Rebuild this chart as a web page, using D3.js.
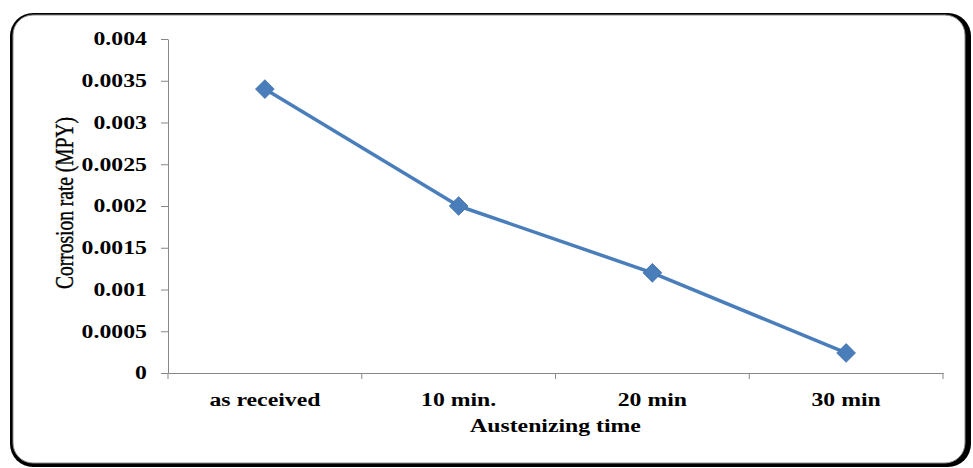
<!DOCTYPE html>
<html>
<head>
<meta charset="utf-8">
<script src="https://cdn.jsdelivr.net/npm/d3@7"></script>
<style>
  body { margin: 0; background: #fff; }
  svg { display: block; }
</style>
</head>
<body>
<div id="chart"></div>
<script>
    var categories = ["as received", "10 min.", "20 min", "30 min"];
    var rates = [0.0034, 0.002, 0.0012, 0.00024];
    var yTicks = [0, 0.0005, 0.001, 0.0015, 0.002, 0.0025, 0.003, 0.0035, 0.004];
    var yTickLabels = ["0", "0.0005", "0.001", "0.0015", "0.002", "0.0025", "0.003", "0.0035", "0.004"];

    var WIDTH = 973, HEIGHT = 468;
    var PLOT_LEFT = 168, PLOT_RIGHT = 943, PLOT_TOP = 39, PLOT_BOTTOM = 373;
    var STRETCH = 1.32; // text in the picture is wider than plain Times
    var LINE_COLOR = "#4a7ebb";
    var AXIS_COLOR = "#878787";

    var svg = d3.select("#chart").append("svg")
        .attr("width", WIDTH)
        .attr("height", HEIGHT);

    var defs = svg.append("defs");
    defs.append("filter").attr("id", "soft")
        .append("feGaussianBlur").attr("stdDeviation", 0.7);

    // frame with shadow
    svg.append("rect")
        .attr("x", 10).attr("y", 13)
        .attr("width", 961).attr("height", 454)
        .attr("rx", 23).attr("ry", 23)
        .attr("fill", "#000")
        .attr("filter", "url(#soft)");
    svg.append("rect")
        .attr("x", 13).attr("y", 15)
        .attr("width", 952).attr("height", 448)
        .attr("rx", 20).attr("ry", 20)
        .attr("fill", "#fff")
        .attr("stroke", "#8a8a8a")
        .attr("stroke-width", 1);

    var x = d3.scaleBand().domain(categories).range([PLOT_LEFT, PLOT_RIGHT]);
    var y = d3.scaleLinear().domain([0, 0.004]).range([PLOT_BOTTOM, PLOT_TOP]);

    // y axis
    var yAxis = svg.append("g")
        .attr("transform", "translate(" + PLOT_LEFT + ",0)")
        .call(d3.axisLeft(y)
            .tickValues(yTicks)
            .tickFormat(function(d, i){ return yTickLabels[i]; })
            .tickSizeInner(7)
            .tickSizeOuter(0)
            .tickPadding(9));
    yAxis.selectAll("path, line").attr("stroke", AXIS_COLOR);
    yAxis.selectAll("text")
        .attr("font-family", "'Liberation Serif', 'Times New Roman', serif")
        .attr("font-weight", "bold")
        .attr("font-size", 18)
        .attr("fill", "#000")
        .attr("transform", "scale(" + STRETCH + ",1)");

    // x axis
    var xAxis = svg.append("g")
        .attr("transform", "translate(0," + PLOT_BOTTOM + ")")
        .call(d3.axisBottom(x)
            .tickSizeInner(0)
            .tickSizeOuter(0)
            .tickPadding(20));
    xAxis.select(".domain").attr("stroke", AXIS_COLOR);
    xAxis.selectAll(".tick text")
        .attr("font-family", "'Liberation Serif', 'Times New Roman', serif")
        .attr("font-weight", "bold")
        .attr("font-size", 18)
        .attr("fill", "#000")
        .attr("transform", "scale(" + STRETCH + ",1)");

    // category boundary ticks
    var bounds = categories.map(function(c){ return x(c); }).concat([x.range()[1]]);
    xAxis.selectAll("line.bound")
        .data(bounds)
        .enter().append("line")
        .attr("class", "bound")
        .attr("x1", function(d){ return d; })
        .attr("x2", function(d){ return d; })
        .attr("y1", 0)
        .attr("y2", 6)
        .attr("stroke", AXIS_COLOR);

    // axis titles
    svg.append("text")
        .attr("transform", "translate(" + ((PLOT_LEFT + PLOT_RIGHT) / 2) + ",432) scale(" + STRETCH + ",1)")
        .attr("text-anchor", "middle")
        .attr("font-family", "'Liberation Serif', 'Times New Roman', serif")
        .attr("font-weight", "bold")
        .attr("font-size", 18)
        .text("Austenizing time");

    svg.append("text")
        .attr("transform", "translate(73,203) rotate(-90) scale(1,1.3)")
        .attr("text-anchor", "middle")
        .attr("font-family", "'Liberation Serif', 'Times New Roman', serif")
        .attr("font-size", 19.5)
        .attr("stroke", "#000")
        .attr("stroke-width", 0.3)
        .text("Corrosion rate (MPY)");

    // series
    var cx = function(d, i){ return x(categories[i]) + x.bandwidth() / 2; };
    var line = d3.line()
        .x(cx)
        .y(function(d){ return y(d); });

    svg.append("path")
        .datum(rates)
        .attr("d", line)
        .attr("fill", "none")
        .attr("stroke", LINE_COLOR)
        .attr("stroke-width", 3.5)
        .attr("stroke-linejoin", "round");

    svg.selectAll("path.marker")
        .data(rates)
        .enter().append("path")
        .attr("class", "marker")
        .attr("d", d3.symbol().type(d3.symbolSquare).size(175))
        .attr("transform", function(d, i){ return "translate(" + cx(d, i) + "," + y(d) + ") rotate(45)"; })
        .attr("fill", LINE_COLOR)
        .attr("stroke", "#3f70ad")
        .attr("stroke-width", 0.8);
</script>
</body>
</html>
